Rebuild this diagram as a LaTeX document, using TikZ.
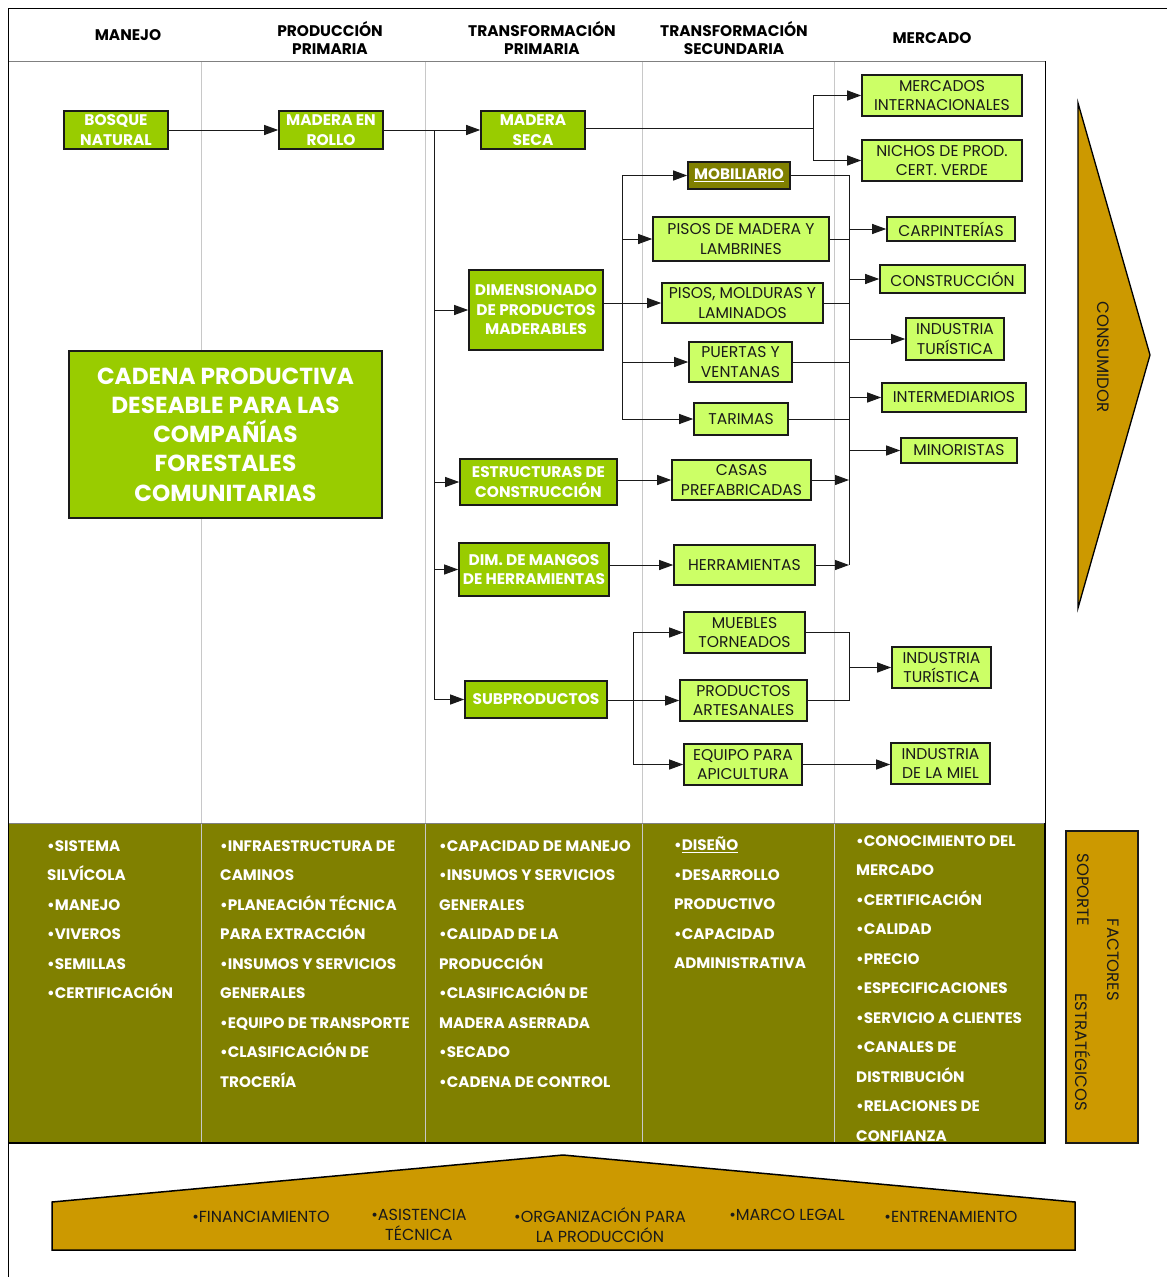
\documentclass[tikz,border=0pt]{standalone}
\usepackage{fontspec}
\setmainfont{Poppins}
\usetikzlibrary{arrows.meta}
\definecolor{leaf}{HTML}{99CC00}
\definecolor{lime}{HTML}{CCFF66}
\definecolor{olivebar}{HTML}{808000}
\definecolor{gold}{HTML}{CC9900}
\definecolor{rule}{HTML}{C8C8C8}
\definecolor{ink}{HTML}{1A1A1A}

\tikzset{
  gbox/.style={draw=ink, line width=1.6pt, fill=leaf, text=white, align=center, inner sep=0pt,
               font=\bfseries\fontsize{15.4}{19.5}\selectfont},
  lbox/.style={draw=ink, line width=1.6pt, fill=lime, text=ink, align=center, inner sep=0pt,
               font=\fontsize{15.6}{19.5}\selectfont},
  obox/.style={draw=ink, line width=1.6pt, fill=olivebar, text=white, align=center, inner sep=0pt,
               font=\bfseries\fontsize{15.2}{19}\selectfont},
  head/.style={align=center, inner sep=0pt, font=\bfseries\fontsize{15.4}{18}\selectfont},
  band/.style={align=left, inner sep=0pt, text=white, anchor=north west,
               font=\bfseries\fontsize{15.2}{29.5}\selectfont},
  base/.style={align=center, inner sep=0pt, text=ink, font=\fontsize{16}{20}\selectfont},
  side/.style={rotate=-90, text=ink, inner sep=0pt, font=\fontsize{16.5}{18}\selectfont},
  link/.style={line width=1pt, draw=ink},
  flow/.style={link, -{Triangle[length=14pt,width=10pt]}},
}

\begin{document}
\begin{tikzpicture}[x=1pt,y=-1pt]
\useasboundingbox (0,0) rectangle (1167,1277);

% ---- frame, columns and the support band
\fill[olivebar] (8,823) rectangle (1045,1143);
\foreach \cx in {201,425,642,834} \draw[rule, line width=0.8pt] (\cx,61) -- (\cx,1143);
\draw[line width=1pt, draw=gray] (8,61) -- (1045,61);
\draw[line width=1pt, draw=gray] (8,823) -- (1045,823);
\draw[line width=1pt] (8,1277) -- (8,8) -- (1167,8);
\draw[line width=0.9pt] (1045,61) -- (1045,823);
\draw[line width=1.8pt] (8,1143) -- (1045,1143) -- (1045,823);

% ---- column headings
\node[head] (h1) at (128,35) {MANEJO};
\node[head] (h2) at (330,38) {PRODUCCIÓN\\PRIMARIA};
\node[head] (h3) at (542,38) {TRANSFORMACIÓN\\PRIMARIA};
\node[head] (h4) at (734,38) {TRANSFORMACIÓN\\SECUNDARIA};
\node[head] (h5) at (932,38) {MERCADO};

% ---- chain boxes
\node[gbox, minimum width=104, minimum height=38] (bosque) at (116,130) {BOSQUE\\NATURAL};
\node[gbox, minimum width=104, minimum height=38] (rollo) at (331,130) {MADERA EN\\ROLLO};
\node[gbox, minimum width=104, minimum height=38] (seca) at (533,130) {MADERA\\SECA};
\node[lbox, minimum width=160, minimum height=41] (mercint) at (942,95.5) {MERCADOS\\INTERNACIONALES};
\node[lbox, minimum width=160, minimum height=41] (nichos) at (942,160.5) {NICHOS DE PROD.\\CERT. VERDE};
\node[obox, minimum width=102, minimum height=27] (mobil) at (739,175.5) {\underline{MOBILIARIO}};
\node[lbox, minimum width=176, minimum height=44] (pisosmad) at (741,239) {PISOS DE MADERA Y\\LAMBRINES};
\node[lbox, minimum width=161, minimum height=40] (pisosmold) at (742.5,303) {PISOS, MOLDURAS Y\\LAMINADOS};
\node[lbox, minimum width=103, minimum height=40] (puertas) at (740.5,362) {PUERTAS Y\\VENTANAS};
\node[lbox, minimum width=94, minimum height=32] (tarimas) at (741,419) {TARIMAS};
\node[gbox, minimum width=134, minimum height=80] (dimens) at (536,310) {DIMENSIONADO\\DE PRODUCTOS\\MADERABLES};
\node[lbox, minimum width=128, minimum height=24] (carp) at (951,229) {CARPINTERÍAS};
\node[lbox, minimum width=145, minimum height=28] (constr) at (952.5,279) {CONSTRUCCIÓN};
\node[lbox, minimum width=98, minimum height=42] (indtura) at (955,339) {INDUSTRIA\\TURÍSTICA};
\node[lbox, minimum width=144, minimum height=29] (interm) at (954,397.5) {INTERMEDIARIOS};
\node[lbox, minimum width=116, minimum height=25] (minor) at (959,450.5) {MINORISTAS};
\node[gbox, minimum width=157, minimum height=46] (estruc) at (538.5,482) {ESTRUCTURAS DE\\CONSTRUCCIÓN};
\node[lbox, minimum width=139, minimum height=40] (casas) at (741.5,480) {CASAS\\PREFABRICADAS};
\node[gbox, minimum width=150, minimum height=53] (mangos) at (534,569.5) {DIM. DE MANGOS\\DE HERRAMIENTAS};
\node[lbox, minimum width=141, minimum height=40] (herram) at (744.5,565) {HERRAMIENTAS};
\node[gbox, minimum width=142, minimum height=37] (subprod) at (536,699.5) {SUBPRODUCTOS};
\node[lbox, minimum width=121, minimum height=41] (muebles) at (744.5,632.5) {MUEBLES\\TORNEADOS};
\node[lbox, minimum width=127, minimum height=41] (prodart) at (743.5,700.5) {PRODUCTOS\\ARTESANALES};
\node[lbox, minimum width=118, minimum height=41] (equipo) at (743,764.5) {EQUIPO PARA\\APICULTURA};
\node[lbox, minimum width=99, minimum height=41] (indturb) at (941.5,667.5) {INDUSTRIA\\TURÍSTICA};
\node[lbox, minimum width=99, minimum height=41] (miel) at (940.5,763.5) {INDUSTRIA\\DE LA MIEL};

\node[gbox, minimum width=313, minimum height=167, font=\bfseries\fontsize{23.2}{29.3}\selectfont]
  (titulo) at (225.5,434.5) {CADENA PRODUCTIVA\\DESEABLE PARA LAS\\COMPAÑÍAS\\FORESTALES\\COMUNITARIAS};

% ---- branch points
\coordinate (tp) at (434,130);
\coordinate (tm) at (813,128);
\coordinate (td) at (622,0);
\coordinate (tk) at (849,0);
\coordinate (ts) at (633,0);

% ---- connectors
\draw[flow] (bosque) -- (rollo);
\draw[flow] (rollo) -- (seca);
\draw[link] (tp) -- (tp |- subprod.west);
\draw[flow] (tp |- dimens.west) -- (dimens.west);
\draw[flow] (tp |- estruc.west) -- (estruc.west);
\draw[flow] (tp |- mangos.west) -- (mangos.west);
\draw[flow] (tp |- subprod.west) -- (subprod.west);

\draw[link] (seca.east |- tm) -- (tm);
\draw[flow] (tm) |- (mercint.west);
\draw[flow] (tm) |- (nichos.west);

\draw[flow] (dimens.east |- pisosmold.west) -- (pisosmold.west);
\draw[link] (td |- mobil.west) -- (td |- tarimas.west);
\draw[flow] (td |- mobil.west) -- (mobil.west);
\draw[flow] (td |- pisosmad.west) -- (pisosmad.west);
\draw[flow] (td |- puertas.west) -- (puertas.west);
\draw[flow] (td |- tarimas.west) -- (tarimas.west);

\draw[link] (mobil.east) -| (tk |- herram.east);
\draw[link] (pisosmad.east) -- (tk |- pisosmad.east);
\draw[link] (pisosmold.east) -- (tk |- pisosmold.east);
\draw[link] (puertas.east) -- (tk |- puertas.east);
\draw[link] (tarimas.east) -- (tk |- tarimas.east);
\draw[flow] (estruc.east |- casas.west) -- (casas.west);
\draw[flow] (casas.east) -- (tk |- casas.east);
\draw[flow] (mangos.east |- herram.west) -- (herram.west);
\draw[flow] (herram.east) -- (tk |- herram.east);
\draw[flow] (tk |- carp.west) -- (carp.west);
\draw[flow] (tk |- constr.west) -- (constr.west);
\draw[flow] (tk |- indtura.west) -- (indtura.west);
\draw[flow] (tk |- interm.west) -- (interm.west);
\draw[flow] (tk |- minor.west) -- (minor.west);

\draw[flow] (subprod.east |- prodart.west) -- (prodart.west);
\draw[link] (ts |- muebles.west) -- (ts |- equipo.west);
\draw[flow] (ts |- muebles.west) -- (muebles.west);
\draw[flow] (ts |- equipo.west) -- (equipo.west);
\draw[link] (muebles.east) -| (tk |- prodart.east) -- (prodart.east);
\draw[flow] (tk |- indturb.west) -- (indturb.west);
\draw[flow] (equipo.east) -- (equipo.east -| miel.west);

% ---- consumer arrow
\draw[line width=1.3pt, fill=gold] (1078,103) -- (1150,355) -- (1078,608) -- cycle;
\node[side] (consum) at (1103,357) {CONSUMIDOR};

% ---- strategic support factors
\node[draw=ink, line width=1.4pt, fill=gold, minimum width=72, minimum height=312, inner sep=0pt] (factbox) at (1102,987) {};
\node[side] (fact1) at (1113,960) {FACTORES};
\node[side] (fact2) at (1083,890) {SOPORTE};
\node[side] (fact3) at (1083,1052) {ESTRATÉGICOS};

% ---- factor lists per stage
\node[band] (f1) at (47,840) {•SISTEMA\\SILVÍCOLA\\•MANEJO\\•VIVEROS\\•SEMILLAS\\•CERTIFICACIÓN};
\node[band] (f2) at (220,840) {•INFRAESTRUCTURA DE\\CAMINOS\\•PLANEACIÓN TÉCNICA\\PARA EXTRACCIÓN\\•INSUMOS Y SERVICIOS\\GENERALES\\•EQUIPO DE TRANSPORTE\\•CLASIFICACIÓN DE\\TROCERÍA};
\node[band] (f3) at (439,840) {•CAPACIDAD DE MANEJO\\•INSUMOS Y SERVICIOS\\GENERALES\\•CALIDAD DE LA\\PRODUCCIÓN\\•CLASIFICACIÓN DE\\MADERA ASERRADA\\•SECADO\\•CADENA DE CONTROL};
\node[band] (f4) at (674,837) {•\underline{DISEÑO}\\•DESARROLLO\\PRODUCTIVO\\•CAPACIDAD\\ADMINISTRATIVA};
\node[band] (f5) at (856,835) {•CONOCIMIENTO DEL\\MERCADO\\•CERTIFICACIÓN\\•CALIDAD\\•PRECIO\\•ESPECIFICACIONES\\•SERVICIO A CLIENTES\\•CANALES DE\\DISTRIBUCIÓN\\•RELACIONES DE\\CONFIANZA};

% ---- base of the chain
\draw[line width=1.5pt, fill=gold] (52,1202) -- (563,1155) -- (1075,1202) -- (1075,1250) -- (52,1250) -- cycle;
\node[base] (b1) at (261,1217) {•FINANCIAMIENTO};
\node[base] (b2) at (419,1225) {•ASISTENCIA\\TÉCNICA};
\node[base] (b3) at (600,1225) {•ORGANIZACIÓN PARA\\LA PRODUCCIÓN};
\node[base] (b4) at (787,1215) {•MARCO LEGAL};
\node[base] (b5) at (951,1217) {•ENTRENAMIENTO};
\end{tikzpicture}
\end{document}
